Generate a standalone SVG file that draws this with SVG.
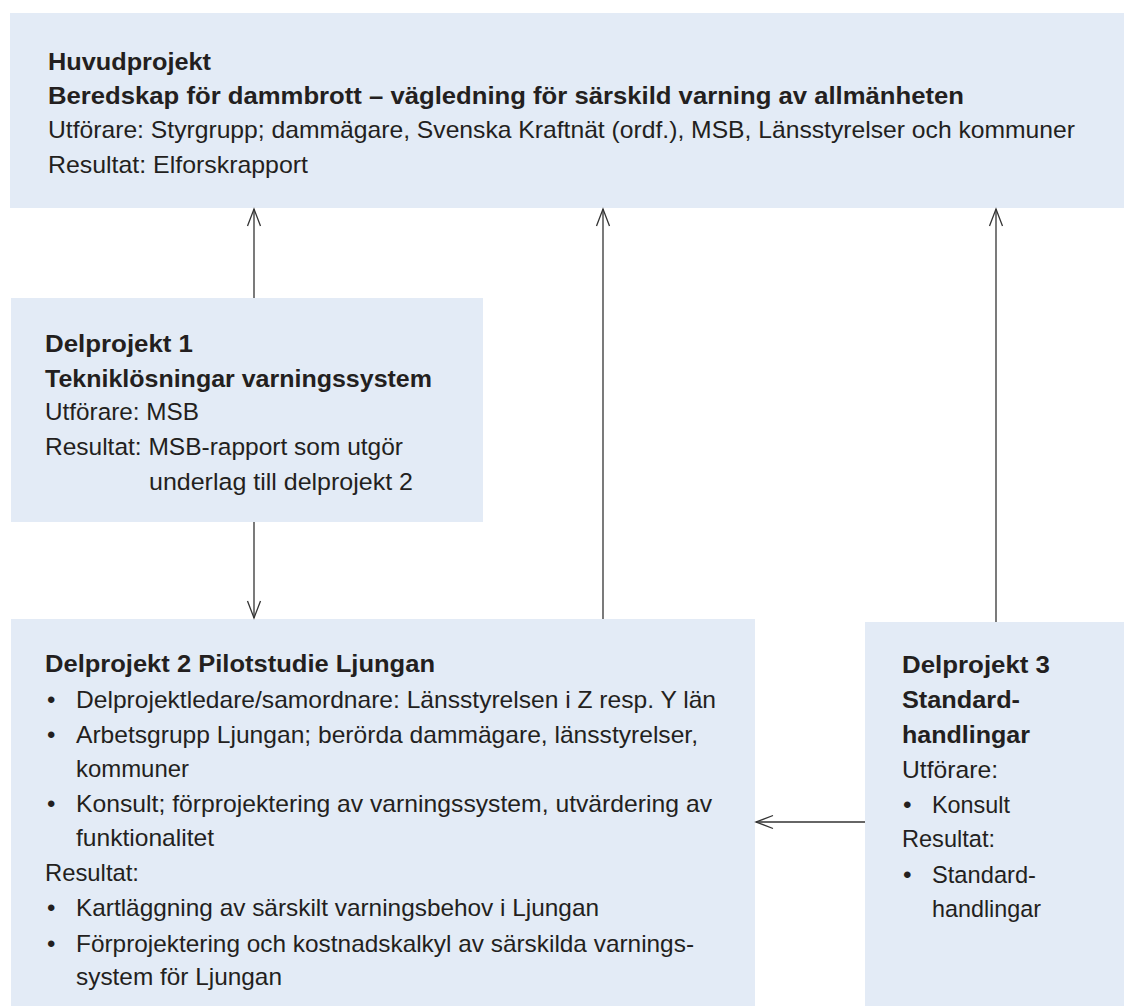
<svg xmlns="http://www.w3.org/2000/svg" width="1124" height="1006" viewBox="0 0 1124 1006">
<style>
.box{fill:#e3ebf6;}
text{font-family:"Liberation Sans",Arial,sans-serif;fill:#231f20;}
.c{font-size:24px;}
.n{font-size:24.5px;}
.b{font-weight:bold;}
.ln{stroke:#333333;stroke-width:1.3;fill:none;}
</style>
<defs>
<marker id="ah" markerUnits="userSpaceOnUse" markerWidth="20" markerHeight="16" viewBox="-1 -1 20 16" refX="17" refY="6.5" orient="auto" overflow="visible">
<path d="M0,0 L17,6.5 L0,13" fill="none" stroke="#333333" stroke-width="1.3"/>
</marker>
</defs>
<rect width="1124" height="1006" fill="#ffffff"/>
<g id="huvudprojekt">
<rect class="box" x="10" y="13" width="1114" height="195"/>
<text class="c b" x="48" y="70" textLength="163" lengthAdjust="spacingAndGlyphs">Huvudprojekt</text>
<text class="c b" x="48" y="104" textLength="916" lengthAdjust="spacingAndGlyphs">Beredskap för dammbrott – vägledning för särskild varning av allmänheten</text>
<text class="c" x="48" y="138" textLength="1027" lengthAdjust="spacingAndGlyphs">Utförare: Styrgrupp; dammägare, Svenska Kraftnät (ordf.), MSB, Länsstyrelser och kommuner</text>
<text class="c" x="48" y="173" textLength="260" lengthAdjust="spacingAndGlyphs">Resultat: Elforskrapport</text>
</g>
<g id="delprojekt1">
<rect class="box" x="11" y="298" width="472" height="224"/>
<text class="n b" x="45" y="352" textLength="148" lengthAdjust="spacingAndGlyphs">Delprojekt 1</text>
<text class="n b" x="45" y="387" textLength="387" lengthAdjust="spacingAndGlyphs">Tekniklösningar varningssystem</text>
<text class="n" x="45" y="420" textLength="154" lengthAdjust="spacingAndGlyphs">Utförare: MSB</text>
<text class="n" x="45" y="455" textLength="358" lengthAdjust="spacingAndGlyphs">Resultat: MSB-rapport som utgör</text>
<text class="n" x="149" y="490" textLength="264" lengthAdjust="spacingAndGlyphs">underlag till delprojekt 2</text>
</g>
<g id="delprojekt2">
<rect class="box" x="11" y="619" width="744" height="387"/>
<text class="c b" x="45" y="672" textLength="390" lengthAdjust="spacingAndGlyphs">Delprojekt 2 Pilotstudie Ljungan</text>
<text class="c" x="47" y="708">•</text>
<text class="c" x="76" y="708" textLength="640" lengthAdjust="spacingAndGlyphs">Delprojektledare/samordnare: Länsstyrelsen i Z resp. Y län</text>
<text class="c" x="47" y="743">•</text>
<text class="c" x="76" y="743" textLength="622" lengthAdjust="spacingAndGlyphs">Arbetsgrupp Ljungan; berörda dammägare, länsstyrelser,</text>
<text class="c" x="76" y="777" textLength="113" lengthAdjust="spacingAndGlyphs">kommuner</text>
<text class="c" x="47" y="812">•</text>
<text class="c" x="76" y="812" textLength="636" lengthAdjust="spacingAndGlyphs">Konsult; förprojektering av varningssystem, utvärdering av</text>
<text class="c" x="76" y="846" textLength="138" lengthAdjust="spacingAndGlyphs">funktionalitet</text>
<text class="c" x="45" y="881" textLength="94" lengthAdjust="spacingAndGlyphs">Resultat:</text>
<text class="c" x="47" y="916">•</text>
<text class="c" x="76" y="916" textLength="523" lengthAdjust="spacingAndGlyphs">Kartläggning av särskilt varningsbehov i Ljungan</text>
<text class="c" x="47" y="952">•</text>
<text class="c" x="76" y="952" textLength="618" lengthAdjust="spacingAndGlyphs">Förprojektering och kostnadskalkyl av särskilda varnings-</text>
<text class="c" x="76" y="985" textLength="206" lengthAdjust="spacingAndGlyphs">system för Ljungan</text>
</g>
<g id="delprojekt3">
<rect class="box" x="865" y="622" width="259" height="384"/>
<text class="n b" x="902" y="673" textLength="148" lengthAdjust="spacingAndGlyphs">Delprojekt 3</text>
<text class="n b" x="902" y="708" textLength="118" lengthAdjust="spacingAndGlyphs">Standard-</text>
<text class="n b" x="902" y="743" textLength="128" lengthAdjust="spacingAndGlyphs">handlingar</text>
<text class="n" x="902" y="778" textLength="96" lengthAdjust="spacingAndGlyphs">Utförare:</text>
<text class="n" x="903" y="813">•</text>
<text class="n" x="932" y="813" textLength="78" lengthAdjust="spacingAndGlyphs">Konsult</text>
<text class="n" x="902" y="847" textLength="93" lengthAdjust="spacingAndGlyphs">Resultat:</text>
<text class="n" x="903" y="883">•</text>
<text class="n" x="932" y="883" textLength="104" lengthAdjust="spacingAndGlyphs">Standard-</text>
<text class="n" x="932" y="917" textLength="109" lengthAdjust="spacingAndGlyphs">handlingar</text>
</g>
<g id="connectors">
<line class="ln" x1="254" y1="298" x2="254" y2="209" marker-end="url(#ah)"/>
<line class="ln" x1="254" y1="522" x2="254" y2="618" marker-end="url(#ah)"/>
<line class="ln" x1="603" y1="619" x2="603" y2="209" marker-end="url(#ah)"/>
<line class="ln" x1="996" y1="622" x2="996" y2="209" marker-end="url(#ah)"/>
<line class="ln" x1="865" y1="822" x2="756" y2="822" marker-end="url(#ah)"/>
</g>
</svg>
